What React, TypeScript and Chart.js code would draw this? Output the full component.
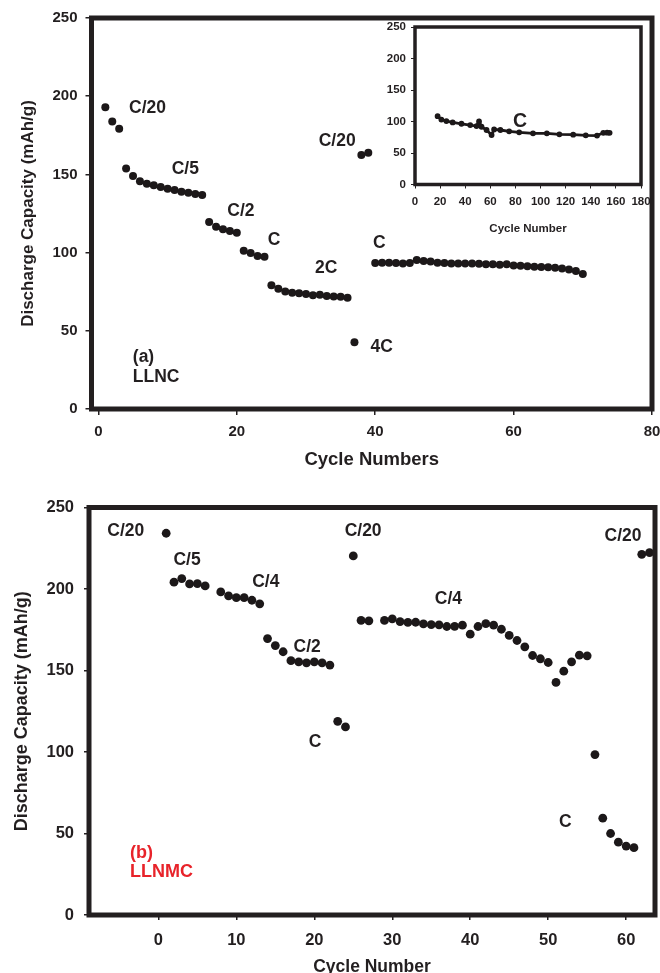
import React, { useEffect, useRef } from "react";
import { Chart, registerables } from "chart.js";

Chart.register(...registerables);

const FONT = "'Liberation Sans', Arial, Helvetica, sans-serif";
const INK = "#231f20";
const RED = "#e8232a";

// ---------- Panel (a): LLNC ----------
const cyclesA = [
  1, 2, 3, 4, 5, 6, 7, 8, 9, 10, 11, 12, 13, 14, 15, 16, 17, 18, 19, 20,
  21, 22, 23, 24, 25, 26, 27, 28, 29, 30, 31, 32, 33, 34, 35, 36, 37, 38, 39, 40,
  41, 42, 43, 44, 45, 46, 47, 48, 49, 50, 51, 52, 53, 54, 55, 56, 57, 58, 59, 60,
  61, 62, 63, 64, 65, 66, 67, 68, 69, 70,
];
const capacityA = [
  192.9, 183.9, 179.2, 153.7, 149, 145.6, 144.1, 143, 141.9, 140.9, 140, 138.9, 138.3, 137.5, 136.8,
  119.6, 116.6, 114.9, 113.8, 112.7,
  101.2, 99.7, 97.8, 97.4,
  79.1, 76.9, 75.2, 74.4, 74, 73.5, 72.7, 73.1, 72.3, 72, 71.8, 71.2,
  42.6,
  162.4, 163.9,
  93.3, 93.5, 93.5, 93.3, 93.1, 93.3, 95.2, 94.6, 94.3, 93.5, 93.3, 93.1, 93.1, 93, 93, 92.8,
  92.6, 92.5, 92.2, 92.6, 91.8, 91.6, 91.3, 91, 90.8, 90.6, 90.3, 89.8, 89.2, 88.2, 86.3,
];
const xTicksA = [0, 20, 40, 60, 80];
const yTicksA = [0, 50, 100, 150, 200, 250];
const labelTextA = ["C/20", "C/5", "C/2", "C", "2C", "4C", "C/20", "C"];
const labelXA = [7.1, 12.55, 20.6, 25.4, 32.9, 40.95, 34.5, 40.6];
const labelYA = [192.5, 153.6, 126.8, 108, 90, 39.8, 171.4, 106];
const tagTextA = ["(a)", "LLNC"];
const tagXA = [4.97, 4.97];
const tagYA = [32.9, 20.3];

// ---------- Inset: long cycling at C ----------
const insetCycles = [18, 21, 25, 30, 37, 44, 49, 51, 53, 57, 61, 63, 68, 75, 83, 94, 105, 115, 126, 136, 145, 150, 153, 155];
const insetCapacity = [108.5, 103, 100.6, 98.5, 96.4, 94.3, 92.8, 100, 91.7, 86.5, 78.6, 87.5, 86.5, 84.4, 82.8, 81.2, 81.2, 79.7, 79.1, 78.1, 77.6, 82, 82.3, 82];
const insetXTicks = [0, 20, 40, 60, 80, 100, 120, 140, 160, 180];
const insetYTicks = [0, 50, 100, 150, 200, 250];
const insetLabelText = ["C"];
const insetLabelX = [83.6];
const insetLabelY = [100];

// ---------- Panel (b): LLNMC ----------
const cyclesB = [
  1, 2, 3, 4, 5, 6, 8, 9, 10, 11, 12, 13, 14, 15, 16, 17, 18, 19, 20, 21, 22,
  23, 24, 25, 26, 27, 29, 30, 31, 32, 33, 34, 35, 36, 37, 38, 39, 40, 41, 42, 43,
  44, 45, 46, 47, 48, 49, 50, 51, 52, 53, 54, 55, 56, 57, 58, 59, 60, 61, 62, 63, 64,
];
const capacityB = [
  234.2, 204.2, 206.4, 203.1, 203.3, 201.9, 198.2, 195.8, 194.7, 194.7, 193.1, 190.9,
  169.6, 165.3, 161.5, 156, 155.3, 154.7, 155.3, 154.7, 153.3,
  118.8, 115.4, 220.3, 180.7, 180.5, 180.7, 181.7, 180, 179.5, 179.6, 178.6, 178.2, 178,
  177, 177.1, 177.8, 172.3, 177, 178.8, 177.8, 175.3, 171.5, 168.4, 164.5, 159.2, 157.2,
  154.9, 142.7, 149.6, 155.3, 159.4, 159, 98.4, 59.4, 50, 44.7, 42.3, 41.3, 221.3, 222.3, 222.3,
];
const xTicksB = [0, 10, 20, 30, 40, 50, 60];
const yTicksB = [0, 50, 100, 150, 200, 250];
const labelTextB = ["C/20", "C/5", "C/4", "C/2", "C", "C/20", "C/4", "C", "C/20"];
const labelXB = [-4.18, 3.68, 13.78, 19.08, 20.1, 26.26, 37.2, 52.2, 59.6];
const labelYB = [235.2, 217.6, 204.1, 164.6, 106, 235.2, 193.7, 56.9, 232.5];
const tagTextB = ["(b)", "LLNMC"];
const tagXB = [-3.63, -3.63];
const tagYB = [38.3, 26.4];

// ---------- helpers ----------
const framePlugin = (w: number) => ({
  id: "frame",
  afterDatasetsDraw(chart: any) {
    const { ctx, chartArea } = chart;
    const { left, top, right, bottom } = chartArea;
    ctx.save();
    ctx.strokeStyle = INK;
    ctx.lineWidth = w;
    ctx.lineJoin = "miter";
    ctx.strokeRect(left, top, right - left, bottom - top);
    ctx.restore();
  },
});

const textPlugin = (
  id: string,
  texts: string[],
  xs: number[],
  ys: number[],
  size: number,
  color: string,
  align: CanvasTextAlign
) => ({
  id,
  afterDatasetsDraw(chart: any) {
    const { ctx, scales } = chart;
    ctx.save();
    ctx.font = `bold ${size}px ${FONT}`;
    ctx.fillStyle = color;
    ctx.textAlign = align;
    ctx.textBaseline = "middle";
    texts.forEach((t, i) => {
      ctx.fillText(t, scales.x.getPixelForValue(xs[i]), scales.y.getPixelForValue(ys[i]));
    });
    ctx.restore();
  },
});

const points = (xs: number[], ys: number[]) => xs.map((x, i) => ({ x, y: ys[i] }));

function axis(opts: {
  min: number;
  max: number;
  ticks: number[];
  size: number;
  horizontal: boolean;
  tickLength: number;
  padding: number;
  tickFont: number;
  title: string;
  titleFont: number;
  titlePadding: any;
  tickWidth: number;
}) {
  return {
    type: "linear",
    min: opts.min,
    max: opts.max,
    afterBuildTicks: (s: any) => {
      s.ticks = opts.ticks.map((v) => ({ value: v }));
    },
    afterFit: (s: any) => {
      if (opts.horizontal) {
        s.height = opts.size;
      } else {
        s.width = opts.size;
      }
      s.paddingLeft = 0;
      s.paddingRight = 0;
      s.paddingTop = 0;
      s.paddingBottom = 0;
    },
    grid: {
      drawOnChartArea: false,
      drawTicks: true,
      tickLength: opts.tickLength,
      color: INK,
      lineWidth: opts.tickWidth,
    },
    border: { display: false },
    ticks: {
      padding: opts.padding,
      autoSkip: false,
      maxRotation: 0,
      minRotation: 0,
      color: INK,
      font: { family: FONT, size: opts.tickFont, weight: "bold" },
    },
    title: {
      display: opts.title !== "",
      text: opts.title,
      color: INK,
      font: { family: FONT, size: opts.titleFont, weight: "bold" },
      padding: opts.titlePadding,
    },
  };
}

function buildA(): any {
  return {
    type: "scatter",
    data: {
      datasets: [
        {
          data: points(cyclesA, capacityA),
          backgroundColor: "#1c1819",
          borderWidth: 0,
          pointRadius: 4,
          pointHoverRadius: 4,
        },
      ],
    },
    options: {
      animation: false,
      responsive: false,
      events: [],
      layout: { padding: { top: 18, right: 8, left: 0, bottom: 0 } },
      plugins: { legend: { display: false }, tooltip: { enabled: false } },
      scales: {
        x: axis({
          min: -1, max: 80, ticks: xTicksA, size: 66, horizontal: true,
          tickLength: 6, padding: 8, tickFont: 15,
          title: "Cycle Numbers", titleFont: 18.5, titlePadding: { top: 0, bottom: 4 }, tickWidth: 1.5,
        }),
        y: axis({
          min: 0, max: 250, ticks: yTicksA, size: 91.5, horizontal: false,
          tickLength: 6, padding: 8, tickFont: 15,
          title: "Discharge Capacity (mAh/g)", titleFont: 17, titlePadding: { top: 18, bottom: 0 }, tickWidth: 1.5,
        }),
      },
    },
    plugins: [
      framePlugin(5),
      textPlugin("labelsA", labelTextA, labelXA, labelYA, 17.5, INK, "center"),
      textPlugin("tagsA", tagTextA, tagXA, tagYA, 17.5, INK, "left"),
    ],
  };
}

function buildInset(): any {
  return {
    type: "line",
    data: {
      datasets: [
        {
          data: points(insetCycles, insetCapacity),
          borderColor: "#1c1819",
          backgroundColor: "#1c1819",
          borderWidth: 2.8,
          pointRadius: 1.5,
          pointHoverRadius: 1.5,
          tension: 0,
          fill: false,
        },
      ],
    },
    options: {
      animation: false,
      responsive: false,
      events: [],
      layout: { padding: { top: 27, right: 19, left: 0, bottom: 0 } },
      plugins: { legend: { display: false }, tooltip: { enabled: false } },
      scales: {
        x: axis({
          min: 0, max: 180, ticks: insetXTicks, size: 60.5, horizontal: true,
          tickLength: 4, padding: 6, tickFont: 11.5,
          title: "Cycle Number", titleFont: 11.5, titlePadding: { top: 0, bottom: 8.8 }, tickWidth: 1,
        }),
        y: axis({
          min: 0, max: 250, ticks: insetYTicks, size: 85, horizontal: false,
          tickLength: 4, padding: 5, tickFont: 11.5,
          title: "", titleFont: 11, titlePadding: 0, tickWidth: 1,
        }),
      },
    },
    plugins: [
      framePlugin(3.5),
      textPlugin("labelsInset", insetLabelText, insetLabelX, insetLabelY, 19.5, INK, "center"),
    ],
  };
}

function buildB(): any {
  return {
    type: "scatter",
    data: {
      datasets: [
        {
          data: points(cyclesB, capacityB),
          backgroundColor: "#1c1819",
          borderWidth: 0,
          pointRadius: 4.4,
          pointHoverRadius: 4.4,
        },
      ],
    },
    options: {
      animation: false,
      responsive: false,
      events: [],
      layout: { padding: { top: 27.5, right: 5, left: 0, bottom: 0 } },
      plugins: { legend: { display: false }, tooltip: { enabled: false } },
      scales: {
        x: axis({
          min: -8.9, max: 63.7, ticks: xTicksB, size: 65, horizontal: true,
          tickLength: 5, padding: 11, tickFont: 16.5,
          title: "Cycle Number", titleFont: 17.5, titlePadding: { top: 0, bottom: 2.5 }, tickWidth: 1.5,
        }),
        y: axis({
          min: 0, max: 250, ticks: yTicksB, size: 89, horizontal: false,
          tickLength: 5, padding: 10, tickFont: 16.5,
          title: "Discharge Capacity (mAh/g)", titleFont: 18, titlePadding: { top: 11.7, bottom: 0 }, tickWidth: 1.5,
        }),
      },
    },
    plugins: [
      framePlugin(5),
      textPlugin("labelsB", labelTextB, labelXB, labelYB, 17.5, INK, "center"),
      textPlugin("tagsB", tagTextB, tagXB, tagYB, 18, RED, "left"),
    ],
  };
}

function ChartBox(props: { build: () => any; left: number; top: number; width: number; height: number; z: number }) {
  const ref = useRef<HTMLCanvasElement>(null);
  useEffect(() => {
    const chart = new Chart(ref.current as HTMLCanvasElement, props.build());
    return () => chart.destroy();
  }, []);
  return (
    <canvas
      ref={ref}
      width={props.width}
      height={props.height}
      style={{
        position: "absolute",
        left: props.left,
        top: props.top,
        width: props.width,
        height: props.height,
        display: "block",
        zIndex: props.z,
      }}
    />
  );
}

export default function App() {
  return (
    <div
      style={{
        position: "fixed",
        left: 0,
        top: 0,
        width: 660,
        height: 973,
        background: "#ffffff",
        overflow: "hidden",
      }}
    >
      <ChartBox build={buildInset} left={330} top={0} width={330} height={245} z={1} />
      <ChartBox build={buildA} left={0} top={0} width={660} height={475} z={2} />
      <ChartBox build={buildB} left={0} top={480} width={660} height={500} z={2} />
    </div>
  );
}
